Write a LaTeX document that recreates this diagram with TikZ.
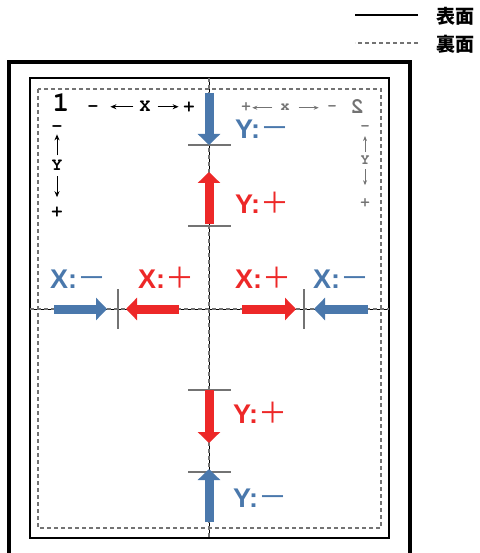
\documentclass[tikz,border=0pt]{standalone}
\usepackage{fontspec}
\setmainfont{Liberation Sans}
\setmonofont{texgyrecursor}[Extension=.otf,UprightFont=*-regular,BoldFont=*-bold]
\newfontfamily\cjk{Noto Sans CJK JP}
\usetikzlibrary{arrows.meta}

\definecolor{frontblue}{RGB}{74,120,172}
\definecolor{frontred}{RGB}{237,40,40}
\definecolor{backgray}{RGB}{115,115,115}

\newcommand\plussign{{\cjk\mdseries\fontsize{29}{29}\selectfont ＋}}
\newcommand\minussign{{\cjk\mdseries\fontsize{29}{29}\selectfont －}}

\tikzset{
  blk/.style={line width=9pt,-{Triangle[width=22pt,length=11pt]}},
  tickline/.style={backgray,line width=1.5pt},
  backline/.style={backgray,line width=2.6pt,dash pattern=on 4pt off 3pt},
  lbl/.style={inner sep=0pt,anchor=base west,font=\fontsize{27}{27}\selectfont\bfseries},
  ax/.style={inner sep=0pt,anchor=base,font=\ttfamily\bfseries\fontsize{18}{18}\selectfont},
  bax/.style={inner sep=0pt,anchor=base,text=backgray,font=\ttfamily\bfseries\fontsize{15}{15}\selectfont},
  axarr/.style={line width=1pt,-{Stealth[length=6pt,width=5pt]}},
  baxarr/.style={backgray,line width=1pt,-{Stealth[length=5pt,width=4pt]}}
}

\begin{document}
\begin{tikzpicture}[x=1pt,y=-1pt]
\useasboundingbox (0,0) rectangle (479,553);

\coordinate (o) at (209,309);
\path (o) -- +(0,-164) coordinate (t1);
\path (o) -- +(0,-83) coordinate (t2);
\path (o) -- +(0,81) coordinate (t3);
\path (o) -- +(0,163) coordinate (t4);
\path (o) -- +(-91,0) coordinate (t5);
\path (o) -- +(95,0) coordinate (t6);

% sheet
\draw[line width=3.2pt] (9,553) -- (9,62) -- (410,62) -- (410,553);
\draw[line width=2.5pt] (30,78) rectangle (389,538);
\draw[backline] (38,89) rectangle (381,528);

\draw[line width=0.9pt] (209,78) -- (209,538);
\draw[line width=0.9pt] (30,309) -- (389,309);
\draw[backline,line width=1.2pt] (209,78) -- (209,538);
\draw[backline,line width=1.2pt] (30,309) -- (389,309);

\foreach \t in {t1,t2,t3,t4}
  \draw[tickline] (\t) +(-21,0) -- +(22,0);
\foreach \t in {t5,t6}
  \draw[tickline] (\t) +(0,-20) -- +(0,20);

\draw[blk,frontblue] (209,93) -- (t1);
\draw[blk,frontred] (209,224) -- (209,172);
\draw[blk,frontred] (t3) -- (209,443);
\draw[blk,frontblue] (209,522) -- (209,469);
\draw[blk,frontblue] (54,309) -- (107,309);
\draw[blk,frontred] (179,309) -- (126,309);
\draw[blk,frontred] (242,309) -- (296,309);
\draw[blk,frontblue] (368,309) -- (314,309);

\node[lbl,text=frontblue] (ymu) at (235,139) {Y:\minussign};
\node[lbl,text=frontred] (ypu) at (235,213) {Y:\plussign};
\node[lbl,text=frontblue] (xml) at (50,288) {X:\minussign};
\node[lbl,text=frontred] (xpl) at (138,288) {X:\plussign};
\node[lbl,text=frontred] (xpr) at (235,288) {X:\plussign};
\node[lbl,text=frontblue] (xmr) at (313,288) {X:\minussign};
\node[lbl,text=frontred] (ypl) at (233,423) {Y:\plussign};
\node[lbl,text=frontblue] (yml) at (233,507) {Y:\minussign};

% front axes
\node[ax,font=\ttfamily\bfseries\fontsize{28}{28}\selectfont] (one) at (61,112) {1};
\node[ax] (fxm) at (93,112) {-};
\node[ax] (fx) at (145,112) {X};
\node[ax] (fxp) at (189,112) {+};
\draw[axarr] (fx.west) ++(-6,0) -- ++(-23,0);
\draw[axarr] (fx.east) ++(7,0) -- ++(21,0);
\node[ax] (fym) at (57,132) {-};
\node[ax] (fy) at (57,171) {Y};
\node[ax] (fyp) at (57,216) {+};
\draw[axarr] (fy.north) ++(0,-5) -- ++(0,-21);
\draw[axarr] (fy.south) ++(0,5) -- ++(0,21);

% back axes
\node[bax,font=\ttfamily\bfseries\fontsize{22}{22}\selectfont] (two) at (357,114) {\reflectbox{2}};
\node[bax] (bxp) at (246,111) {+};
\node[bax] (bx) at (285,111) {x};
\node[bax] (bxm) at (332,111) {-};
\draw[baxarr] (bx.west) ++(-8,0) -- ++(-20,0);
\draw[baxarr] (bx.east) ++(9,0) -- ++(20,0);
\node[bax] (bym) at (365,131) {-};
\node[bax] (by) at (365,165) {Y};
\node[bax] (byp) at (365,206) {+};
\draw[baxarr] (by.north) ++(0,-4) -- ++(0,-16);
\draw[baxarr] (by.south) ++(0,4) -- ++(0,16);

% legend
\node[inner sep=0pt,anchor=west,font=\cjk\bfseries\fontsize{19}{19}\selectfont] (fr) at (436,16) {表面};
\node[inner sep=0pt,anchor=west,font=\cjk\bfseries\fontsize{19}{19}\selectfont] (bk) at (436,44) {裏面};
\draw[line width=2pt] (fr.west) ++(-18,-1) -- ++(-63,0);
\draw[backline,line width=1.8pt] (bk.west) ++(-18,-1) -- ++(-63,0);

\end{tikzpicture}
\end{document}
